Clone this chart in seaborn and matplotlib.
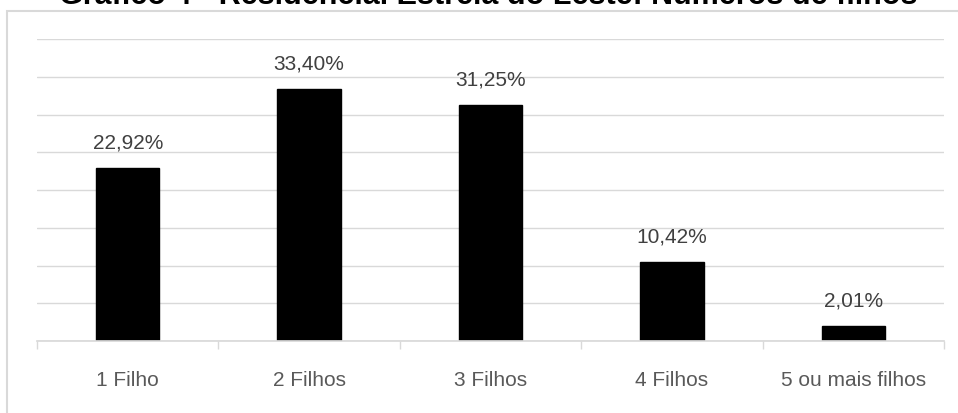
import matplotlib
matplotlib.use("Agg")
import matplotlib.pyplot as plt
import seaborn as sns
import pandas as pd
from matplotlib.patches import Rectangle

categories = ["1 Filho", "2 Filhos", "3 Filhos", "4 Filhos", "5 ou mais filhos"]
values = [22.92, 33.40, 31.25, 10.42, 2.01]
labels = ["22,92%", "33,40%", "31,25%", "10,42%", "2,01%"]
title = "Gráfico 4 - Residencial Estrela do Leste: Números de filhos"

sns.set_theme(style="white")
plt.rcParams['font.family'] = ['Liberation Sans Narrow', 'Liberation Sans', 'DejaVu Sans']

W, H = 958, 414
fig = plt.figure(figsize=(W/100, H/100), dpi=100)
ax = fig.add_axes([37/W, 1-342/H, (944-37)/W, (342-40)/H])

df = pd.DataFrame({"cat": categories, "val": values})
sns.barplot(data=df, x="cat", y="val", color="black", width=0.35, ax=ax,
            saturation=1, edgecolor="black")

ax.set_ylim(0, 40)
ax.set_xlim(-0.5, 4.5)
ax.set_yticks(range(0, 41, 5))
ax.yaxis.grid(True, color="#d9d9d9", linewidth=1)
ax.set_axisbelow(True)
ax.tick_params(axis="y", left=False, labelleft=False)
for s in ["top", "right", "left"]:
    ax.spines[s].set_visible(False)
ax.spines["bottom"].set_color("#d9d9d9")
ax.set_xlabel("")
ax.set_ylabel("")

# category boundary ticks
ax.set_xticks([i - 0.5 for i in range(6)], minor=True)
ax.tick_params(axis="x", which="minor", bottom=True, length=6, color="#d9d9d9", width=1)
ax.tick_params(axis="x", which="major", bottom=False, pad=15, labelsize=15, labelcolor="#595959")

for i, (v, lab) in enumerate(zip(values, labels)):
    ax.text(i, v + 2.2, lab, ha="center", va="bottom", fontsize=15, color="#404040")

fig.add_artist(Rectangle((7/W, -0.1), 1.1, 1.1 - 12/H, transform=fig.transFigure,
                         fill=False, edgecolor="#d9d9d9", linewidth=1.5))

fig.text(488/W, 1-4.5/H, title, ha="center", va="baseline", fontsize=22, fontweight="bold",
         color="black")

fig.savefig("out.png", dpi=100)
